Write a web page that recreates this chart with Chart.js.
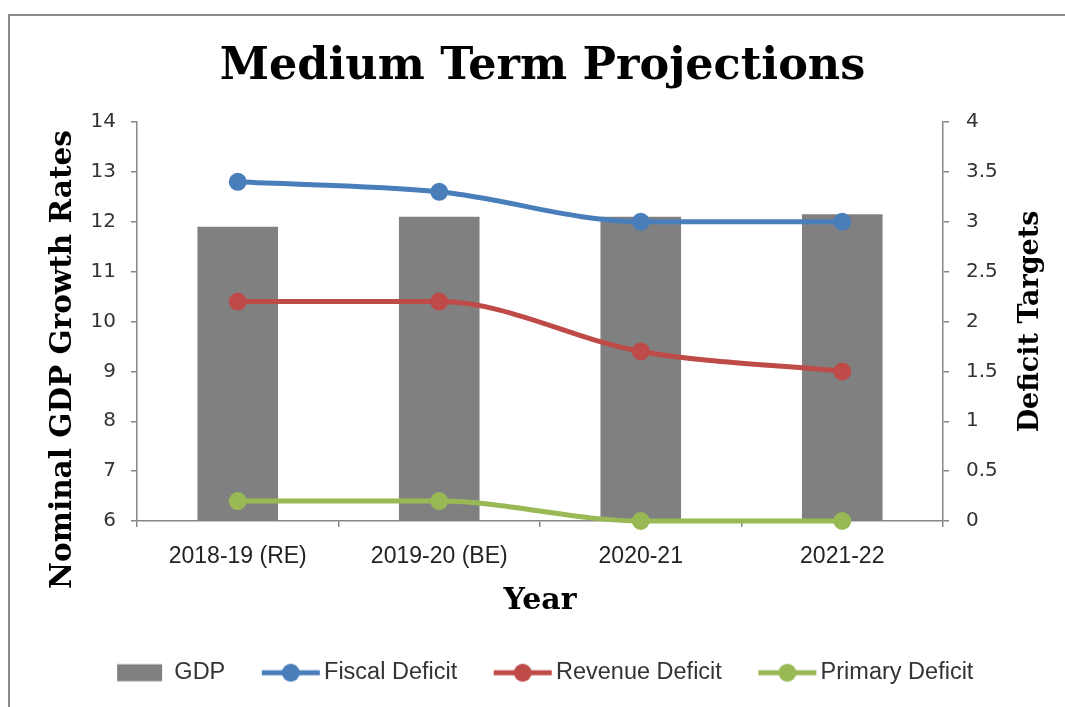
<!DOCTYPE html>
<html><head><meta charset="utf-8">
<script src="https://cdn.jsdelivr.net/npm/chart.js@4/dist/chart.umd.min.js"></script>
<style>html,body{margin:0;padding:0;background:#fff;} canvas{display:block;}</style>
</head><body>
<canvas id="c" width="1065" height="707"></canvas>
<script>
// ---- data ----
const categories = ['2018-19 (RE)', '2019-20 (BE)', '2020-21', '2021-22'];
const gdpGrowth = [11.9, 12.1, 12.1, 12.15];
const fiscalDeficit = [3.4, 3.3, 3.0, 3.0];
const revenueDeficit = [2.2, 2.2, 1.7, 1.5];
const primaryDeficit = [0.2, 0.2, 0.0, 0.0];
const leftTickValues = [6, 7, 8, 9, 10, 11, 12, 13, 14];
const rightTickValues = [0, 0.5, 1, 1.5, 2, 2.5, 3, 3.5, 4];
const rightTickLabels = ['0', '0.5', '1', '1.5', '2', '2.5', '3', '3.5', '4'];
const seriesNames = ['GDP', 'Fiscal Deficit', 'Revenue Deficit', 'Primary Deficit'];
const chartTitle = 'Medium Term Projections';
const xAxisTitle = 'Year';
const leftAxisTitle = 'Nominal GDP Growth Rates';
const rightAxisTitle = 'Deficit Targets';

// ---- styles ----
const GRAY = '#808080', BLUE = '#4A7EBB', RED = '#BE4B48', GREEN = '#98B954';
const AXIS = '#878787';
const SERIF = '"DejaVu Serif", serif';
const SANS = '"Liberation Sans", Arial, sans-serif';

function makeIcon(kind, color) {
  const c = document.createElement('canvas');
  c.width = 70; c.height = 22;
  const g = c.getContext('2d');
  if (kind === 'bar') {
    g.fillStyle = color; g.fillRect(15, 2.5, 45, 17);
  } else {
    g.strokeStyle = color; g.lineWidth = 5; g.lineCap = 'butt';
    g.beginPath(); g.moveTo(10, 11); g.lineTo(68, 11); g.stroke();
    g.fillStyle = color; g.beginPath(); g.arc(39, 11, 9, 0, Math.PI * 2); g.fill();
  }
  return c;
}
const legendIcons = [makeIcon('bar', GRAY), makeIcon('line', BLUE), makeIcon('line', RED), makeIcon('line', GREEN)];

const frame = {
  id: 'frame',
  beforeDraw(chart) {
    const ctx = chart.ctx;
    ctx.save();
    ctx.strokeStyle = '#8a8a8a'; ctx.lineWidth = 2;
    ctx.beginPath(); ctx.moveTo(9, 710); ctx.lineTo(9, 15); ctx.lineTo(1070, 15); ctx.stroke();
    ctx.restore();
  }
};
const axisTitles = {
  id: 'axisTitles',
  afterDraw(chart) {
    const ctx = chart.ctx, ca = chart.chartArea;
    ctx.save();
    ctx.fillStyle = '#000'; ctx.textAlign = 'center'; ctx.textBaseline = 'middle';
    ctx.font = 'bold 29.5px ' + SERIF;
    ctx.save(); ctx.translate(ca.left - 74, (ca.top + ca.bottom) / 2 + 38); ctx.rotate(-Math.PI / 2);
    ctx.fillText(leftAxisTitle, 0, 0); ctx.restore();
    ctx.font = 'bold 27px ' + SERIF;
    ctx.save(); ctx.translate(ca.right + 88, (ca.top + ca.bottom) / 2); ctx.rotate(-Math.PI / 2);
    ctx.fillText(rightAxisTitle, 0, 0); ctx.restore();
    ctx.restore();
  }
};

const lineDs = (label, data, color) => ({
  type: 'line', label, data, yAxisID: 'y1', order: 0,
  borderColor: color, backgroundColor: color, borderWidth: 5,
  pointRadius: 8, pointBorderWidth: 2, pointBorderColor: color, pointBackgroundColor: color,
  cubicInterpolationMode: 'monotone', clip: false, fill: false
});

new Chart(document.getElementById('c'), {
  type: 'bar',
  data: {
    labels: categories,
    datasets: [
      { type: 'bar', label: seriesNames[0], data: gdpGrowth, yAxisID: 'y', order: 1,
        backgroundColor: GRAY, borderWidth: 0, barPercentage: 0.4, categoryPercentage: 1.0 },
      lineDs(seriesNames[1], fiscalDeficit, BLUE),
      lineDs(seriesNames[2], revenueDeficit, RED),
      lineDs(seriesNames[3], primaryDeficit, GREEN)
    ]
  },
  options: {
    responsive: false, animation: false,
    layout: { padding: { left: 20, right: 0, top: 0, bottom: 12.5 } },
    plugins: {
      tooltip: { enabled: false },
      title: { display: true, text: chartTitle, color: '#000',
        font: { family: SERIF, weight: 'bold', size: 44.5 }, padding: { top: 41, bottom: 27.6 } },
      legend: {
        position: 'bottom',
        labels: {
          usePointStyle: true, pointStyleWidth: 51, boxHeight: 17, padding: 36,
          color: '#333', font: { family: SANS, size: 23.5 },
          sort: (a, b) => a.datasetIndex - b.datasetIndex,
          generateLabels(chart) {
            const items = Chart.defaults.plugins.legend.labels.generateLabels(chart);
            items.forEach(it => { it.pointStyle = legendIcons[it.datasetIndex]; });
            return items;
          }
        }
      }
    },
    scales: {
      x: {
        afterFit(s) { s.height = 104; },
        grid: { drawOnChartArea: false, drawTicks: true, tickLength: 6, color: AXIS, lineWidth: 1.5 },
        border: { color: AXIS, width: 1.5 },
        ticks: { color: '#222', font: { family: SANS, size: 23 }, padding: 16, maxRotation: 0 },
        title: { display: true, text: xAxisTitle, color: '#000',
          font: { family: SERIF, weight: 'bold', size: 30 }, padding: { top: 0, bottom: 6 } }
      },
      y: {
        position: 'left', min: 6, max: 14,
        afterFit(s) { s.width = 117; },
        afterBuildTicks(s) { s.ticks = leftTickValues.map(v => ({ value: v })); },
        grid: { drawOnChartArea: false, drawTicks: true, tickLength: 6, color: AXIS, lineWidth: 1.5 },
        border: { color: AXIS, width: 1.5 },
        ticks: { color: '#333', font: { family: '"DejaVu Sans", sans-serif', size: 20 }, padding: 15 }
      },
      y1: {
        position: 'right', min: 0, max: 4,
        afterFit(s) { s.width = 122; },
        afterBuildTicks(s) { s.ticks = rightTickValues.map(v => ({ value: v })); },
        grid: { drawOnChartArea: false, drawTicks: true, tickLength: 6, color: AXIS, lineWidth: 1.5 },
        border: { color: AXIS, width: 1.5 },
        ticks: { color: '#333', font: { family: '"DejaVu Sans", sans-serif', size: 20 }, padding: 17,
          callback: (v, i) => rightTickLabels[i] }
      }
    }
  },
  plugins: [frame, axisTitles]
});
</script>
</body></html>
